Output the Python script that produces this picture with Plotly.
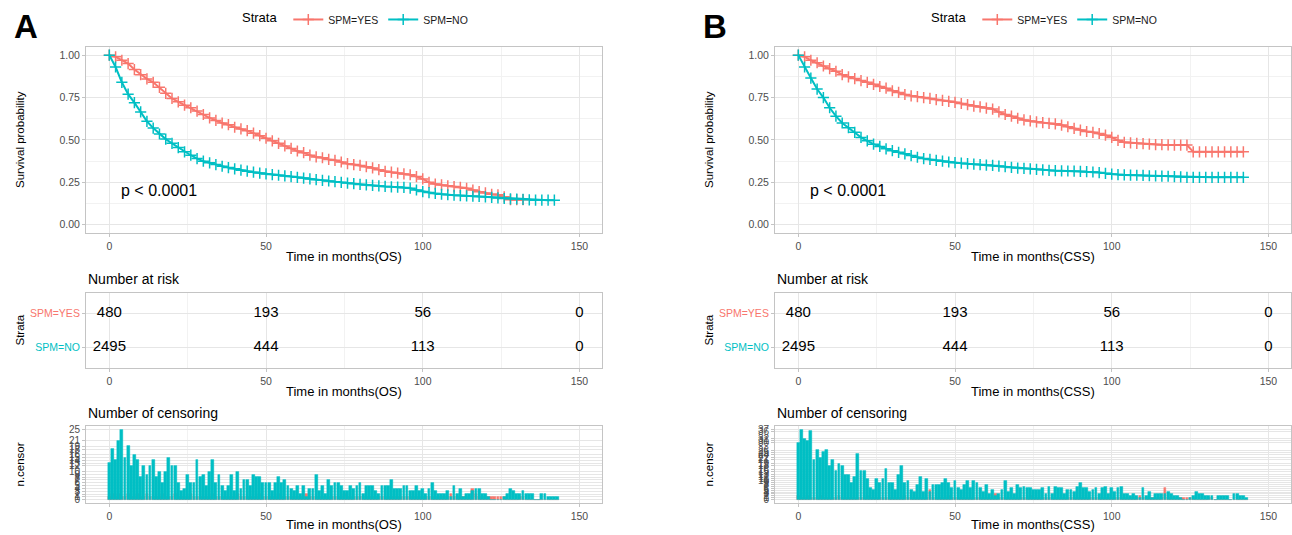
import plotly.graph_objects as go

W, H = 1292, 535
RED = "#F8766D"
TEAL = "#00BFC4"
FONT = "Liberation Sans, Arial, Helvetica, sans-serif"

strata = ["SPM=YES", "SPM=NO"]

# ---------------- Kaplan-Meier curves ----------------
t_os_yes = list(range(0, 133, 2))
s_os_yes = [1.0, .99, .97, .95, .915, .885, .86, .84, .81, .775,
            .745, .725, .705, .69, .67, .65, .63, .615, .60, .59,
            .575, .565, .555, .54, .525, .51, .495, .48, .465, .45,
            .435, .425, .41, .40, .395, .385, .38, .37, .36, .355,
            .35, .342, .335, .325, .315, .31, .305, .30, .295, .284,
            .27, .25, .24, .235, .23, .225, .22, .215, .205, .195,
            .188, .18, .177, .165, .148, .148, .148]
t_os_no = list(range(0, 144, 2))
s_os_no = [1.0, .93, .84, .77, .72, .665, .61, .57, .535, .505,
           .48, .455, .43, .41, .39, .375, .365, .355, .345, .337,
           .33, .322, .316, .31, .305, .30, .296, .292, .288, .284,
           .28, .275, .27, .266, .262, .258, .254, .25, .246, .242,
           .238, .235, .232, .229, .226, .224, .222, .22, .216, .205,
           .196, .19, .185, .18, .177, .174, .172, .17, .168, .167,
           .165, .162, .158, .155, .153, .152, .15, .147, .145, .145,
           .145, .145]
t_css_yes = list(range(0, 144, 2))
s_css_yes = [1.0, .99, .97, .955, .936, .92, .905, .885, .872, .862,
             .85, .84, .828, .815, .805, .79, .78, .768, .76, .755,
             .75, .745, .738, .733, .728, .722, .715, .708, .70, .695,
             .688, .682, .665, .65, .64, .628, .618, .612, .607, .602,
             .598, .595, .588, .578, .568, .558, .55, .545, .538, .528,
             .515, .498, .486, .483, .48, .478, .475, .473, .472, .471,
             .47, .47, .47, .43, .43, .43, .43, .43, .43, .43,
             .43, .43]
t_css_no = list(range(0, 144, 2))
s_css_no = [1.0, .93, .865, .80, .75, .69, .64, .60, .572, .545,
            .515, .495, .475, .462, .448, .437, .427, .418, .408, .398,
            .39, .385, .38, .375, .37, .366, .363, .36, .357, .355,
            .352, .35, .346, .342, .338, .334, .332, .33, .327, .324,
            .321, .319, .318, .317, .316, .315, .313, .311, .308, .303,
            .298, .296, .294, .293, .292, .291, .289, .288, .287, .286,
            .284, .282, .28, .28, .28, .28, .28, .28, .28, .28,
            .28, .28]

# ---------------- Number at risk ----------------
risk_times = [0, 50, 100, 150]
risk_yes = [480, 193, 56, 0]
risk_no = [2495, 444, 113, 0]

# ---------------- Number of censoring ----------------
cens_t = list(range(0, 144))
cens_os_no = [13, 18, 14, 21, 25, 15, 19, 12, 16, 14,
              8, 12, 9, 12, 14, 8, 10, 6, 10, 15,
              12, 12, 6, 3, 4, 9, 6, 6, 14, 8,
              9, 5, 10, 14, 6, 9, 5, 3, 5, 9,
              3, 10, 4, 7, 7, 5, 9, 8, 8, 6,
              6, 6, 3, 6, 8, 6, 7, 5, 4, 3,
              5, 2, 5, 1, 4, 4, 9, 3, 5, 2,
              7, 5, 6, 6, 5, 3, 3, 5, 4, 5,
              6, 2, 5, 5, 5, 3, 2, 5, 5, 5,
              7, 4, 4, 4, 5, 5, 3, 3, 5, 3,
              4, 2, 4, 6, 3, 2, 2, 2, 3, 1,
              5, 2, 4, 1, 2, 2, 3, 4, 4, 2,
              2, 1, 0, 0, 0, 0, 1, 2, 4, 3,
              2, 2, 3, 2, 2, 2, 0, 0, 2, 2,
              1, 1, 1, 1]
cens_os_yes = [1, 2, 1, 2, 1, 1, 2, 1, 1, 2,
               1, 1, 2, 1, 1, 1, 1, 2, 1, 1,
               1, 2, 1, 1, 1, 1, 2, 1, 1, 1,
               1, 1, 1, 2, 1, 1, 1, 1, 1, 1,
               1, 2, 1, 1, 1, 1, 1, 1, 2, 1,
               1, 1, 1, 1, 2, 1, 1, 1, 1, 1,
               1, 1, 1, 2, 1, 1, 1, 1, 1, 1,
               1, 1, 1, 1, 1, 2, 1, 1, 1, 1,
               1, 1, 1, 1, 1, 1, 1, 1, 1, 1,
               1, 1, 1, 1, 1, 1, 1, 1, 1, 1,
               1, 1, 1, 1, 1, 1, 1, 1, 1, 2,
               1, 1, 1, 1, 1, 1, 4, 2, 1, 1,
               1, 1, 1, 1, 1, 1, 1, 0, 0, 0,
               0, 1, 1, 0, 0, 0, 0, 0, 0, 0,
               0, 0, 0, 0]
cens_css_no = [30, 37, 32, 31, 36, 21, 26, 22, 25, 26,
               18, 21, 15, 19, 18, 13, 13, 9, 12, 24,
               15, 15, 11, 6, 5, 11, 9, 11, 16, 9,
               9, 5, 13, 18, 9, 10, 5, 4, 8, 12,
               4, 11, 4, 8, 8, 8, 9, 11, 9, 6,
               10, 6, 5, 8, 10, 6, 10, 9, 6, 4,
               8, 3, 5, 2, 3, 5, 10, 4, 6, 3,
               8, 6, 7, 6, 6, 5, 5, 5, 6, 3,
               7, 3, 7, 6, 6, 3, 5, 5, 4, 7,
               9, 6, 6, 4, 5, 6, 3, 6, 7, 3,
               6, 4, 6, 7, 3, 3, 2, 3, 2, 1,
               6, 2, 4, 1, 3, 3, 3, 3, 4, 3,
               2, 2, 1, 0, 0, 1, 2, 4, 3, 3,
               2, 2, 2, 0, 2, 2, 2, 2, 0, 3,
               3, 2, 2, 1]
cens_css_yes = [2, 1, 1, 2, 1, 1, 1, 2, 1, 1,
                1, 1, 1, 2, 1, 1, 1, 1, 1, 1,
                1, 1, 2, 1, 1, 1, 1, 1, 1, 1,
                1, 1, 1, 1, 2, 1, 1, 1, 1, 1,
                1, 1, 5, 1, 1, 1, 1, 1, 2, 1,
                1, 1, 1, 1, 1, 1, 1, 1, 1, 1,
                1, 1, 1, 3, 1, 1, 1, 1, 1, 1,
                1, 1, 1, 1, 2, 1, 1, 1, 1, 1,
                1, 1, 1, 1, 1, 1, 1, 1, 1, 1,
                1, 1, 1, 1, 1, 1, 1, 1, 1, 1,
                1, 1, 1, 1, 1, 1, 1, 1, 1, 2,
                1, 1, 1, 1, 1, 1, 1, 6, 1, 1,
                1, 1, 1, 1, 1, 1, 1, 0, 0, 0,
                0, 1, 1, 0, 0, 0, 0, 0, 0, 0,
                0, 0, 0, 0]

x_ticks = [0, 50, 100, 150]
x_range = [-7.44, 157.2]


def px_x(p):
    return p / W


def px_y(p):
    return 1 - p / H


fig = go.Figure()

GRID = "#E6E6E6"
MINOR = "#F2F2F2"
BORDER = "#C4C4C4"
TICKF = dict(family=FONT, size=10.5, color="#4D4D4D")

panels = [
    dict(dx=0, lab="A", xt="Time in months(OS)", sy=s_os_yes, ty=t_os_yes,
         sn=s_os_no, tn=t_os_no, cy=cens_os_yes, cn=cens_os_no, leg="legend"),
    dict(dx=689, lab="B", xt="Time in months(CSS)", sy=s_css_yes, ty=t_css_yes,
         sn=s_css_no, tn=t_css_no, cy=cens_css_yes, cn=cens_css_no, leg="legend2"),
]

annotations = []
layout_axes = {}


def ann(text, x, y, size, xanchor="center", yanchor="middle", angle=0, xref="paper", yref="paper"):
    return dict(text=text, x=x, y=y, xref=xref, yref=yref, xanchor=xanchor, yanchor=yanchor,
                textangle=angle, showarrow=False,
                font=dict(family=FONT, size=size, color="black"))


for pi, P in enumerate(panels):
    dx = P["dx"]
    base = pi * 3
    ax_s, ax_r, ax_c = base + 1, base + 2, base + 3

    def nm(i, letter):
        return letter if i == 1 else f"{letter}{i}"

    xdom = [px_x(86 + dx), min(1.0, px_x(602 + dx))]

    # ---- survival curves
    for name, tt, ss, col in [(strata[0], P["ty"], P["sy"], RED),
                              (strata[1], P["tn"], P["sn"], TEAL)]:
        fig.add_trace(go.Scatter(
            x=tt, y=ss, mode="lines+markers", name=name,
            line=dict(color=col, width=2),
            marker=dict(symbol="cross-thin", size=8, color=col,
                        line=dict(color=col, width=1.5)),
            xaxis=nm(ax_s, "x"), yaxis=nm(ax_s, "y"),
            legend=P["leg"], showlegend=True))
    # ---- risk table
    for row, vals in [(2, risk_yes), (1, risk_no)]:
        fig.add_trace(go.Scatter(
            x=risk_times, y=[row] * len(risk_times), mode="text",
            text=[str(v) for v in vals],
            textfont=dict(family=FONT, size=15, color="black"),
            xaxis=nm(ax_r, "x"), yaxis=nm(ax_r, "y"), showlegend=False))
    # ---- censoring bars
    for vals, col in [(P["cy"], RED), (P["cn"], TEAL)]:
        fig.add_trace(go.Bar(
            x=cens_t, y=vals, width=0.9,
            marker=dict(color=col, line=dict(color=col, width=0.4)),
            xaxis=nm(ax_c, "x"), yaxis=nm(ax_c, "y"), showlegend=False))

    cmax = max(max(P["cy"]), max(P["cn"]))
    cticks = sorted(set(P["cy"]) | set(P["cn"]))

    common_x = dict(domain=xdom, range=x_range, tickvals=x_ticks,
                    showline=True, mirror=True, linecolor=BORDER, linewidth=1,
                    ticks="outside", ticklen=3, tickcolor=BORDER,
                    showgrid=True, gridcolor=GRID, gridwidth=1, zeroline=False,
                    minor=dict(showgrid=True, gridcolor=MINOR, tickvals=[25, 75, 125], ticks=""),
                    tickfont=TICKF)
    common_y = dict(showline=True, mirror=True, linecolor=BORDER, linewidth=1,
                    ticks="outside", ticklen=3, tickcolor=BORDER,
                    showgrid=True, gridcolor=GRID, gridwidth=1, zeroline=False,
                    tickfont=TICKF)

    layout_axes[nm(ax_s, "xaxis")] = dict(common_x, anchor=nm(ax_s, "y"))
    layout_axes[nm(ax_s, "yaxis")] = dict(
        common_y, anchor=nm(ax_s, "x"), domain=[px_y(233), px_y(45)],
        range=[-0.05, 1.05], tickvals=[0, .25, .5, .75, 1.0], tickformat=".2f",
        minor=dict(showgrid=True, gridcolor=MINOR, tickvals=[.125, .375, .625, .875], ticks=""))

    layout_axes[nm(ax_r, "xaxis")] = dict(common_x, anchor=nm(ax_r, "y"))
    layout_axes[nm(ax_r, "yaxis")] = dict(
        common_y, anchor=nm(ax_r, "x"), domain=[px_y(369), px_y(293)],
        range=[0.4, 2.6], tickvals=[2, 1],
        ticktext=[f"<span style='color:{RED}'>{strata[0]}</span>",
                  f"<span style='color:{TEAL}'>{strata[1]}</span>"],
        tickfont=dict(family=FONT, size=10.5, color="#4D4D4D"))

    layout_axes[nm(ax_c, "xaxis")] = dict(common_x, anchor=nm(ax_c, "y"))
    layout_axes[nm(ax_c, "yaxis")] = dict(
        common_y, anchor=nm(ax_c, "x"), domain=[px_y(505), px_y(427)],
        range=[-0.05 * cmax, 1.05 * cmax], tickvals=cticks,
        ticktext=[str(v) for v in cticks],
        tickfont=dict(family=FONT, size=10, color="#4D4D4D"))

    # ---- annotations
    xc = (86 + 602) / 2 + dx
    annotations += [
        ann(f"<b>{P['lab']}</b>", px_x(26 + dx), px_y(25), 33),
        ann("Survival probability", px_x(20 + dx), px_y(139), 11.5, angle=-90),
        ann("Strata", px_x(20 + dx), px_y(331), 11.5, angle=-90),
        ann("n.censor", px_x(20 + dx), px_y(466), 11.5, angle=-90),
        ann(P["xt"], px_x(xc), px_y(256), 13),
        ann(P["xt"], px_x(xc), px_y(392), 13),
        ann(P["xt"], px_x(xc), px_y(526), 13),
        ann("Number at risk", px_x(86 + dx), px_y(279), 14, xanchor="left"),
        ann("Number of censoring", px_x(86 + dx), px_y(414), 14, xanchor="left"),
        ann("p < 0.0001", 3, 0.2, 16, xanchor="left",
            xref=nm(ax_s, "x"), yref=nm(ax_s, "y")),
    ]

leg_common = dict(orientation="h", xanchor="left", yanchor="top", bgcolor="rgba(0,0,0,0)",
                  font=dict(family=FONT, size=10.5, color="#1A1A1A"),
                  title=dict(text="Strata ", font=dict(family=FONT, size=13, color="black")),
                  itemwidth=30, tracegroupgap=0)

fig.update_layout(
    width=W, height=H, margin=dict(l=0, r=0, t=0, b=0),
    paper_bgcolor="white", plot_bgcolor="white",
    barmode="overlay", bargap=0,
    font=dict(family=FONT, color="black"),
    annotations=annotations,
    legend=dict(leg_common, x=px_x(240), y=px_y(3)),
    legend2=dict(leg_common, x=px_x(240 + 689), y=px_y(3)),
    **layout_axes,
)

fig.write_html("out.html", config={"displayModeBar": False},
               post_script="document.body.style.margin='0';")
